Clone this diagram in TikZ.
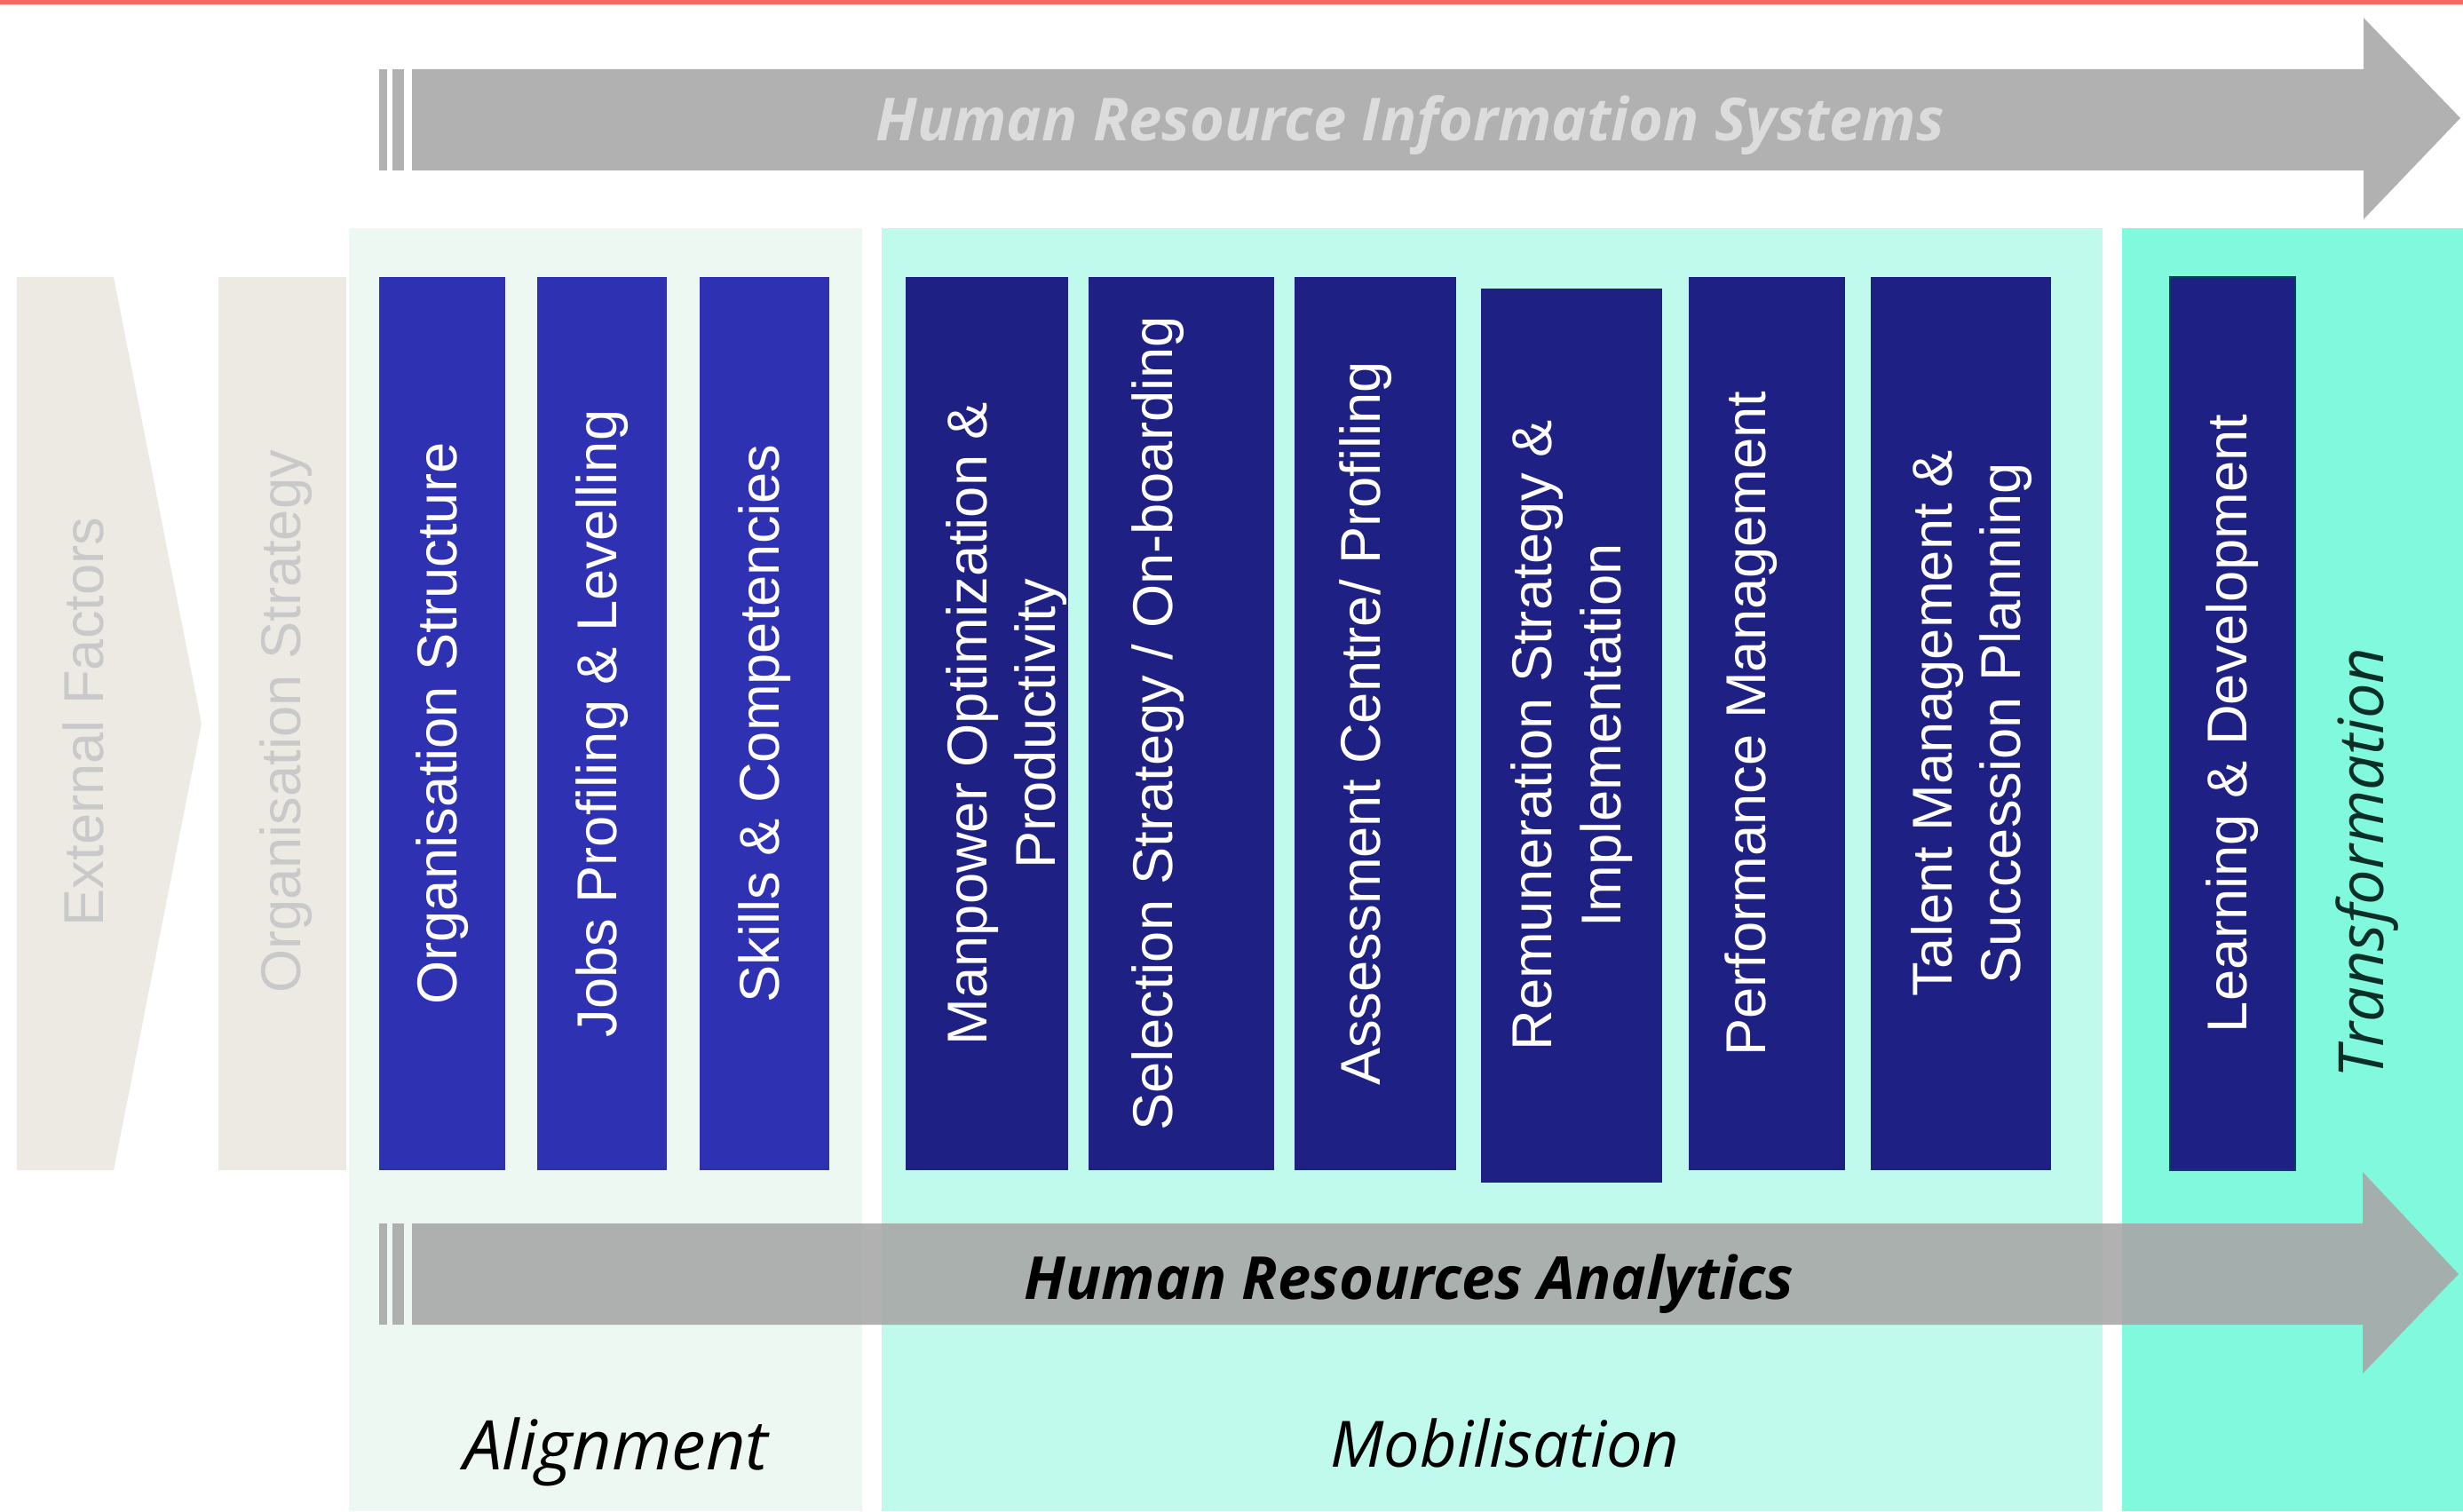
\documentclass[tikz,border=0pt]{standalone}
\usepackage{fontspec}
\setmainfont{Liberation Sans}
\newfontfamily\osans{Open Sans}
\usetikzlibrary{positioning}

\definecolor{topred}{HTML}{F26B5D}
\definecolor{hrgrey}{HTML}{B1B1B1}
\definecolor{hristext}{HTML}{DCDCDC}
\definecolor{beige}{HTML}{EDEAE4}
\definecolor{fadegrey}{HTML}{C9C9C9}
\definecolor{alignbg}{HTML}{EEF8F3}
\definecolor{mobilbg}{HTML}{C0FAEC}
\definecolor{transbg}{HTML}{80F9DC}
\definecolor{alignblue}{HTML}{2D31B2}
\definecolor{navy}{HTML}{1F2083}
\definecolor{transtext}{HTML}{0B2F26}

\tikzstyle{rect} = [rectangle, rotate=90, minimum width=10.06cm, inner sep=0pt, align=center, text=white, font=\fontsize{18}{22}\selectfont]
\tikzstyle{rectA} = [rect, fill=alignblue]
\tikzstyle{rectM} = [rect, fill=navy]
\tikzstyle{coltext} = [rotate=90, align=center, text=white, font=\fontsize{18}{22}\selectfont]
\tikzstyle{faded} = [rotate=90, text=fadegrey, font=\fontsize{18}{22}\selectfont]
\tikzstyle{band} = [anchor=base, font=\osans\bfseries\itshape\fontsize{19}{22}\selectfont]
\tikzstyle{phase} = [anchor=base, font=\osans\itshape\fontsize{21}{24}\selectfont]

\begin{document}
\begin{tikzpicture}

\useasboundingbox (0,0) rectangle (27.74,17.02);
\fill[topred] (0,16.97) rectangle (27.74,17.02);

\fill[alignbg] (3.93,0) rectangle (9.71,14.45);
\fill[mobilbg] (9.93,0) rectangle (23.68,14.45);
\fill[transbg] (23.90,0) rectangle (27.74,14.45);

\fill[beige] (0.19,3.84) -- (0.19,13.90) -- (1.28,13.90) -- (2.27,8.87) -- (1.28,3.84) -- cycle;
\fill[beige] (2.46,3.84) rectangle (3.90,13.90);

\node (external) [faded] at (0.94,8.89) {External Factors};
\node (orgstrategy) [faded] at (3.22,8.89) {Organisation Strategy};

\node (orgstruct) [rectA, minimum height=1.42cm] at (4.98,8.87) {Organisation Structure};
\node (jobs) [rectA, minimum height=1.46cm] at (6.78,8.87) {Jobs Profiling \& Levelling};
\node (skills) [rectA, minimum height=1.46cm] at (8.61,8.87) {Skills \& Competencies};

\node (manpower) [rectM, minimum height=1.83cm] at (11.115,8.87) {};
\node (manpowertext) [coltext] at ([xshift=0.22cm]manpower.center) {Manpower Optimization \&\\Productivity};
\node (selection) [rectM, minimum height=2.09cm] at (13.305,8.87) {};
\node (selectiontext) [coltext] at ([xshift=-0.26cm]selection.center) {Selection Strategy / On-boarding};
\node (assessment) [rectM, minimum height=1.82cm] at (15.49,8.87) {};
\node (assessmenttext) [coltext] at ([xshift=-0.11cm]assessment.center) {Assessment Centre/ Profiling};
\node (remuneration) [rectM, minimum height=2.04cm, minimum width=10.07cm] at (17.70,8.735) {Remuneration Strategy \&\\Implementation};
\node (performance) [rectM, minimum height=1.76cm] at (19.90,8.87) {};
\node (performancetext) [coltext] at ([xshift=-0.18cm]performance.center) {Performance Management};
\node (talent) [rectM, minimum height=2.03cm] at (22.085,8.87) {};
\node (talenttext) [coltext] at ([xshift=0.12cm]talent.center) {Talent Management \&\\Succession Planning};

\node (learning) [rectM, draw=black!40!navy!60!teal, line width=0.8pt, minimum height=1.41cm] at (25.145,8.87) {Learning \& Development};

\fill[hrgrey] (4.27,15.10) rectangle (4.36,16.24);
\fill[hrgrey] (4.42,15.10) rectangle (4.55,16.24);
\fill[hrgrey] (4.64,15.10) -- (4.64,16.24) -- (26.62,16.24) -- (26.62,16.82) -- (27.71,15.69) -- (26.62,14.55) -- (26.62,15.10) -- cycle;
\node (hris) [band, text=hristext] at (15.88,15.43) {Human Resource Information Systems};

\fill[hrgrey!95!black, fill opacity=0.9] (4.27,2.10) rectangle (4.36,3.24);
\fill[hrgrey!95!black, fill opacity=0.9] (4.42,2.10) rectangle (4.55,3.24);
\fill[hrgrey!95!black, fill opacity=0.9] (4.64,2.10) -- (4.64,3.24) -- (26.61,3.24) -- (26.61,3.82) -- (27.69,2.67) -- (26.61,1.55) -- (26.61,2.10) -- cycle;
\node (hra) [band, text=black] at (15.87,2.39) {Human Resources Analytics};

\node (alignment) [phase, font=\osans\itshape\fontsize{22}{24}\selectfont] at (6.94,0.47) {Alignment};
\node (mobilisation) [phase, font=\osans\itshape\fontsize{20.5}{24}\selectfont] at (16.95,0.50) {Mobilisation};
\node (transformation) [rotate=90, text=transtext, font=\osans\itshape\fontsize{20}{22}\selectfont] at (26.66,7.30) {Transformation};

\end{tikzpicture}
\end{document}
